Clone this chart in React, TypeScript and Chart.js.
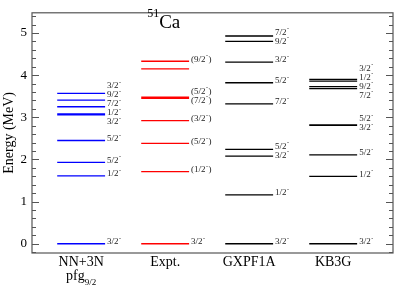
import { useEffect, useRef } from "react";
import { Chart, registerables } from "chart.js";

Chart.register(...registerables);

// ---- data ----
const models = ["NN+3N", "Expt.", "GXPF1A", "KB3G"];

const nnEnergies = [0, 1.61, 1.93, 2.45, 3.06, 3.08, 3.25, 3.41, 3.57];
const nnSpins = ["3/2", "1/2", "5/2", "5/2", "3/2", "1/2", "7/2", "9/2", "3/2"];

const exptEnergies = [0, 1.71, 2.38, 2.92, 3.45, 3.48, 4.15, 4.33];
const exptSpins = ["3/2", "1/2", "5/2", "3/2", "7/2", "5/2", "", "9/2"];
const exptTentative = [false, true, true, true, true, true, true, true];

const gxEnergies = [0, 1.16, 2.08, 2.24, 3.32, 3.82, 4.31, 4.8, 4.93];
const gxSpins = ["3/2", "1/2", "3/2", "5/2", "7/2", "5/2", "3/2", "9/2", "7/2"];

const kbEnergies = [0, 1.6, 2.11, 2.81, 2.82, 3.68, 3.73, 3.86, 3.9];
const kbSpins = ["3/2", "1/2", "5/2", "3/2", "5/2", "7/2", "9/2", "1/2", "3/2"];

const yTickValues = [0, 1, 2, 3, 4, 5];
const colors = ["#0000ff", "#ff0000", "#000000", "#000000"];

const SERIF = '"Liberation Serif", "DejaVu Serif", serif';
const HALF = 0.285;

const columns = [
  { E: nnEnergies, J: nnSpins, T: null as boolean[] | null },
  { E: exptEnergies, J: exptSpins, T: exptTentative },
  { E: gxEnergies, J: gxSpins, T: null as boolean[] | null },
  { E: kbEnergies, J: kbSpins, T: null as boolean[] | null },
];

function levelSegments(energies: number[], c: number) {
  const pts: { x: number; y: number | null }[] = [];
  energies.forEach((e) => {
    pts.push({ x: c - HALF, y: e });
    pts.push({ x: c + HALF, y: e });
    pts.push({ x: c, y: null });
  });
  return pts;
}

const decorPlugin = {
  id: "decor",
  afterDraw(chart: any) {
    const ctx = chart.ctx as CanvasRenderingContext2D;
    const { left, right, top, bottom } = chart.chartArea;
    const xs = chart.scales.x;
    const ys = chart.scales.y;
    ctx.save();

    // frame
    ctx.strokeStyle = "#555";
    ctx.lineWidth = 1.2;
    ctx.strokeRect(left, top, right - left, bottom - top);

    // inward ticks on left and right
    ctx.lineWidth = 1;
    for (let k = -1; k <= 28; k++) {
      const v = k / 5;
      if (v < ys.min || v > ys.max) continue;
      const py = Math.round(ys.getPixelForValue(v)) + 0.5;
      const len = k % 5 === 0 ? 7 : 4;
      ctx.beginPath();
      ctx.moveTo(left, py);
      ctx.lineTo(left + len, py);
      ctx.moveTo(right, py);
      ctx.lineTo(right - len, py);
      ctx.stroke();
    }

    // level labels
    const gap = 9;
    columns.forEach((col, ci) => {
      const xEnd = xs.getPixelForValue(ci + 1 + HALF) + 2;
      const items: { d: number; j: string; t: boolean }[] = [];
      col.E.forEach((e, i) => {
        if (!col.J[i]) return;
        items.push({ d: ys.getPixelForValue(e) - 2, j: col.J[i], t: col.T ? col.T[i] : false });
      });
      items.sort((a, b) => a.d - b.d);
      type G = { its: typeof items; top: number };
      const groups: G[] = [];
      items.forEach((it) => {
        groups.push({ its: [it], top: it.d });
        while (groups.length > 1) {
          const a = groups[groups.length - 2];
          const b = groups[groups.length - 1];
          if (a.top + a.its.length * gap > b.top) {
            const its = a.its.concat(b.its);
            const mean = its.reduce((s, q) => s + q.d, 0) / its.length;
            groups.splice(groups.length - 2, 2, { its, top: mean - ((its.length - 1) * gap) / 2 });
          } else break;
        }
      });
      ctx.fillStyle = "#222";
      ctx.textBaseline = "middle";
      ctx.textAlign = "left";
      groups.forEach((g) => {
        g.its.forEach((it, k) => {
          const py = g.top + k * gap;
          let px = xEnd;
          ctx.font = `9px ${SERIF}`;
          if (it.t) {
            ctx.fillText("(", px, py);
            px += ctx.measureText("(").width;
          }
          ctx.fillText(it.j, px, py);
          px += ctx.measureText(it.j).width + 0.5;
          ctx.font = `6px ${SERIF}`;
          ctx.fillText("-", px, py - 3.5);
          px += ctx.measureText("-").width + 0.5;
          if (it.t) {
            ctx.font = `9px ${SERIF}`;
            ctx.fillText(")", px, py);
          }
        });
      });
    });

    // category labels
    ctx.fillStyle = "#000";
    ctx.textBaseline = "alphabetic";
    ctx.textAlign = "center";
    ctx.font = `14px ${SERIF}`;
    models.forEach((m, i) => {
      ctx.fillText(m, xs.getPixelForValue(i + 1), 266);
    });
    // pfg_{9/2}
    {
      const cx = xs.getPixelForValue(1);
      ctx.font = `14px ${SERIF}`;
      const w1 = ctx.measureText("pfg").width;
      ctx.font = `9px ${SERIF}`;
      const w2 = ctx.measureText("9/2").width;
      let px = cx - (w1 + w2) / 2;
      ctx.textAlign = "left";
      ctx.font = `14px ${SERIF}`;
      ctx.fillText("pfg", px, 280);
      px += w1;
      ctx.font = `9px ${SERIF}`;
      ctx.fillText("9/2", px, 284.5);
    }

    // 51Ca
    {
      const cx = xs.getPixelForValue(2);
      ctx.textAlign = "left";
      ctx.font = `12px ${SERIF}`;
      ctx.fillText("51", cx - 18, 17);
      ctx.font = `19px ${SERIF}`;
      ctx.fillText("Ca", cx - 6, 28);
    }

    // y axis title
    ctx.save();
    ctx.translate(9, (top + bottom) / 2);
    ctx.rotate(-Math.PI / 2);
    ctx.textAlign = "center";
    ctx.textBaseline = "middle";
    ctx.font = `14px ${SERIF}`;
    ctx.fillText("Energy (MeV)", 0, 0);
    ctx.restore();

    ctx.restore();
  },
};

export default function App() {
  const ref = useRef<HTMLCanvasElement | null>(null);
  useEffect(() => {
    if (!ref.current) return;
    const chart = new Chart(ref.current, {
      type: "line",
      data: {
        datasets: columns.map((col, i) => ({
          label: models[i],
          data: levelSegments(col.E, i + 1) as any,
          borderColor: colors[i],
          backgroundColor: colors[i],
          borderWidth: 1.3,
          pointRadius: 0,
          spanGaps: false,
          tension: 0,
        })),
      },
      options: {
        animation: false,
        responsive: false,
        devicePixelRatio: 1,
        layout: { padding: { top: 1, right: 2, bottom: 34, left: 0 } },
        plugins: { legend: { display: false }, tooltip: { enabled: false } },
        scales: {
          x: { type: "linear", display: false, min: 0.415, max: 4.712 },
          y: {
            type: "linear",
            min: -0.22,
            max: 5.48,
            grid: { display: false, drawTicks: false },
            border: { display: false },
            afterBuildTicks: (scale: any) => {
              scale.ticks = yTickValues.map((v) => ({ value: v }));
            },
            afterFit: (scale: any) => {
              scale.width = 32;
            },
            ticks: {
              color: "#000",
              padding: 5,
              font: { family: SERIF, size: 13 },
              callback: (v: any) => String(v),
            },
          },
        },
      },
      plugins: [decorPlugin],
    });
    return () => chart.destroy();
  }, []);
  return (
    <div style={{ position: "fixed", left: 0, top: 0, width: 395, height: 287, background: "#fff" }}>
      <canvas ref={ref} width={395} height={287} style={{ display: "block" }} />
    </div>
  );
}
